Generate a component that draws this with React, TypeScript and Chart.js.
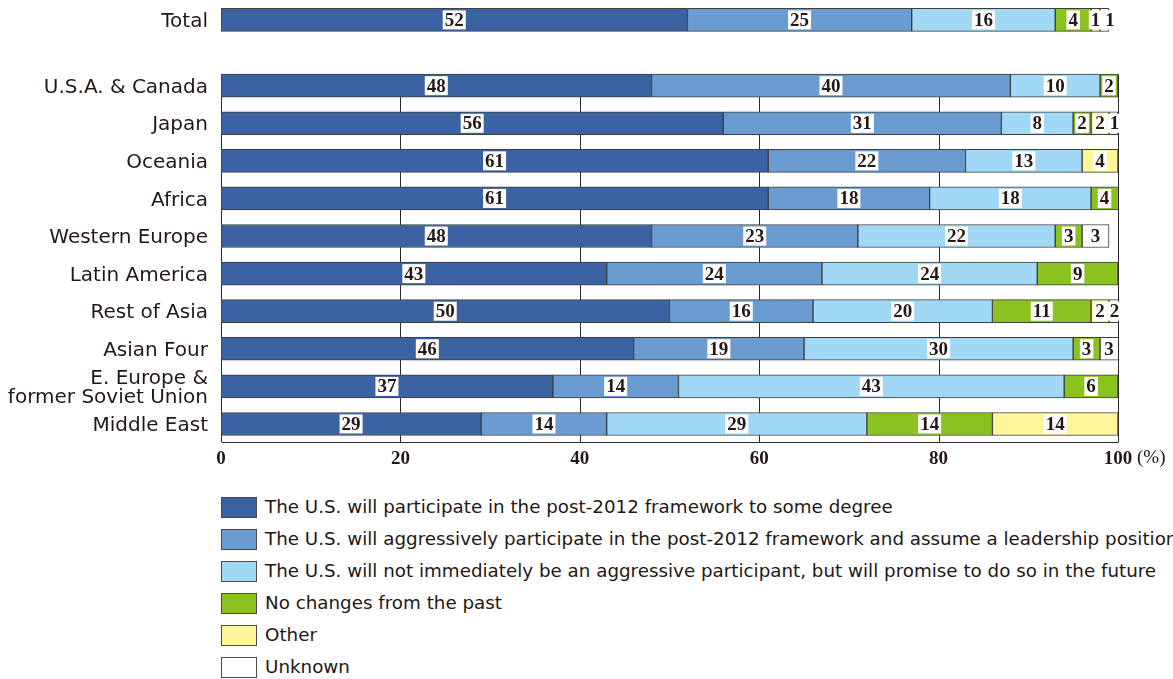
import React, { useEffect, useRef } from 'react';
import { Chart, registerables } from 'chart.js';

Chart.register(...registerables);

// Row labels (a "\n" splits a label over two lines)
const categories = [
  'Total',
  'U.S.A. & Canada',
  'Japan',
  'Oceania',
  'Africa',
  'Western Europe',
  'Latin America',
  'Rest of Asia',
  'Asian Four',
  'E. Europe &\nformer Soviet Union',
  'Middle East',
];

// Shares of respondents (%)
const participate = [52, 48, 56, 61, 61, 48, 43, 50, 46, 37, 29];
const leadership = [25, 40, 31, 22, 18, 23, 24, 16, 19, 14, 14];
const futurePromise = [16, 10, 8, 13, 18, 22, 24, 20, 30, 43, 29];
const noChange = [4, 2, 2, 0, 4, 3, 9, 11, 3, 6, 14];
const other = [1, 0, 2, 4, 0, 0, 0, 2, 0, 0, 14];
const unknown = [1, 0, 1, 0, 0, 3, 0, 2, 3, 0, 0];

const seriesNames = [
  'The U.S. will participate in the post-2012 framework to some degree',
  'The U.S. will aggressively participate in the post-2012 framework and assume a leadership position',
  'The U.S. will not immediately be an aggressive participant, but will promise to do so in the future',
  'No changes from the past',
  'Other',
  'Unknown',
];

const xTicks = [0, 20, 40, 60, 80, 100];

const COLORS = ['#3b62a2', '#6a9cd2', '#a0d8f5', '#8cc21f', '#fff59b', '#ffffff'];
const INK = '#231815';
const SANS = '"DejaVu Sans", sans-serif';
const SERIF = '"Liberation Serif", "Times New Roman", serif';

// Extra vertical space between the "Total" row and the regional rows
const TOTAL_GAP = 0.75;
const rowPos = categories.map((_, i) => (i === 0 ? 0 : i + TOTAL_GAP));
const BAR_THICKNESS = 23;

const allSeries = [participate, leadership, futurePromise, noChange, other, unknown];

const framePlugin = {
  id: 'frame',
  beforeDatasetsDraw(chart: any) {
    const { ctx, chartArea, scales } = chart;
    const xs = scales.x;
    const ys = scales.y;
    const top = ys.getPixelForValue(rowPos[1]) - BAR_THICKNESS / 2;
    const bottom = chartArea.bottom;
    ctx.save();
    ctx.lineWidth = 1;
    ctx.strokeStyle = '#2e2826';
    ctx.beginPath();
    for (const t of xTicks) {
      const x = Math.round(xs.getPixelForValue(t)) + 0.5;
      ctx.moveTo(x, top);
      ctx.lineTo(x, bottom);
    }
    const l = Math.round(xs.getPixelForValue(0)) + 0.5;
    const r = Math.round(xs.getPixelForValue(100)) + 0.5;
    ctx.moveTo(l, Math.round(bottom) + 0.5);
    ctx.lineTo(r, Math.round(bottom) + 0.5);
    ctx.stroke();
    ctx.restore();
  },
  afterDraw(chart: any) {
    const { ctx, scales } = chart;
    const xs = scales.x;
    ctx.save();
    ctx.font = `19px ${SERIF}`;
    ctx.fillStyle = INK;
    ctx.textBaseline = 'middle';
    ctx.textAlign = 'left';
    ctx.fillText('(%)', xs.getPixelForValue(100) + 19, 458);
    ctx.restore();
  },
};

const valueLabelPlugin = {
  id: 'valueLabels',
  afterDatasetsDraw(chart: any) {
    const { ctx } = chart;
    ctx.save();
    ctx.font = `bold 19px ${SERIF}`;
    ctx.textAlign = 'center';
    ctx.textBaseline = 'middle';
    const right = chart.chartArea.right;
    categories.forEach((_, i) => {
      let prevRight = -Infinity;
      allSeries.forEach((series, d) => {
        const v = series[i];
        if (!v) return;
        const el: any = chart.getDatasetMeta(d).data[i];
        if (!el) return;
        const x0 = Math.min(el.base, el.x);
        const x1 = Math.min(Math.max(el.base, el.x), right);
        const text = String(v);
        const w = ctx.measureText(text).width + 4;
        const h = 19;
        let cx = (x0 + x1) / 2;
        if (cx - w / 2 < prevRight + 1) cx = prevRight + 1 + w / 2;
        prevRight = cx + w / 2;
        ctx.fillStyle = '#ffffff';
        ctx.fillRect(cx - w / 2, el.y - h / 2, w, h);
        ctx.fillStyle = INK;
        ctx.fillText(text, cx, el.y + 1);
      });
    });
    ctx.restore();
  },
};

export default function App() {
  const canvasRef = useRef<HTMLCanvasElement | null>(null);

  useEffect(() => {
    document.body.style.margin = '0';
    const canvas = canvasRef.current;
    if (!canvas) return;

    const datasets = allSeries.map((series, d) => ({
      label: seriesNames[d],
      data: series.map((v, i) => ({ x: v === 0 ? null : v, y: rowPos[i] })),
      backgroundColor: COLORS[d],
      borderColor: '#3d3d3d',
      borderWidth: 1,
      borderSkipped: false,
      barThickness: BAR_THICKNESS,
    }));

    const chart = new Chart(canvas, {
      type: 'bar',
      data: { datasets: datasets as any },
      options: {
        indexAxis: 'y',
        responsive: false,
        animation: false,
        events: [],
        layout: { padding: { top: 0, right: 55, bottom: 0, left: 0 } },
        plugins: {
          legend: { display: false },
          tooltip: { enabled: false },
        },
        scales: {
          x: {
            type: 'linear',
            stacked: true,
            min: 0,
            max: 100,
            grid: { display: false, drawTicks: false },
            border: { display: false },
            afterBuildTicks: (scale: any) => {
              scale.ticks = xTicks.map((v) => ({ value: v }));
            },
            afterFit: (scale: any) => {
              scale.height = 38;
              scale.paddingLeft = 0;
              scale.paddingRight = 0;
            },
            ticks: {
              padding: 6,
              color: INK,
              font: { family: SERIF, size: 19, weight: 'bold' },
              maxRotation: 0,
            },
          },
          y: {
            type: 'linear',
            stacked: true,
            reverse: true,
            offset: false,
            min: -0.53,
            max: 11.23,
            bounds: 'data',
            grid: { display: false, drawTicks: false, offset: false },
            border: { display: false },
            afterBuildTicks: (scale: any) => {
              scale.ticks = rowPos.map((v) => ({ value: v }));
            },
            afterFit: (scale: any) => {
              scale.width = 221;
              scale.paddingTop = 0;
              scale.paddingBottom = 0;
            },
            ticks: {
              padding: 13,
              labelOffset: 2,
              color: INK,
              autoSkip: false,
              font: { family: SANS, size: 20, lineHeight: 0.98 },
              callback: (value: any) => {
                const idx = rowPos.indexOf(Number(value));
                if (idx < 0) return '';
                const lab = categories[idx];
                return lab.includes('\n') ? lab.split('\n') : lab;
              },
            },
          },
        },
      },
      plugins: [framePlugin, valueLabelPlugin],
    });

    return () => chart.destroy();
  }, []);

  return (
    <div
      style={{
        position: 'relative',
        width: 1173,
        height: 679,
        overflow: 'hidden',
        background: '#ffffff',
      }}
    >
      <canvas ref={canvasRef} width={1173} height={480} style={{ display: 'block' }} />
      {seriesNames.map((name, d) => (
        <div
          key={name}
          style={{
            position: 'absolute',
            left: 221,
            top: 496 + d * 32,
            height: 22,
            display: 'flex',
            alignItems: 'center',
            whiteSpace: 'nowrap',
          }}
        >
          <div
            style={{
              width: 36,
              height: 21,
              boxSizing: 'border-box',
              border: '1px solid #4a4a4a',
              background: COLORS[d],
              flex: '0 0 auto',
            }}
          />
          <span
            style={{
              marginLeft: 8,
              fontFamily: SANS,
              fontSize: 18.3,
              color: INK,
              lineHeight: '22px',
            }}
          >
            {name}
          </span>
        </div>
      ))}
    </div>
  );
}
